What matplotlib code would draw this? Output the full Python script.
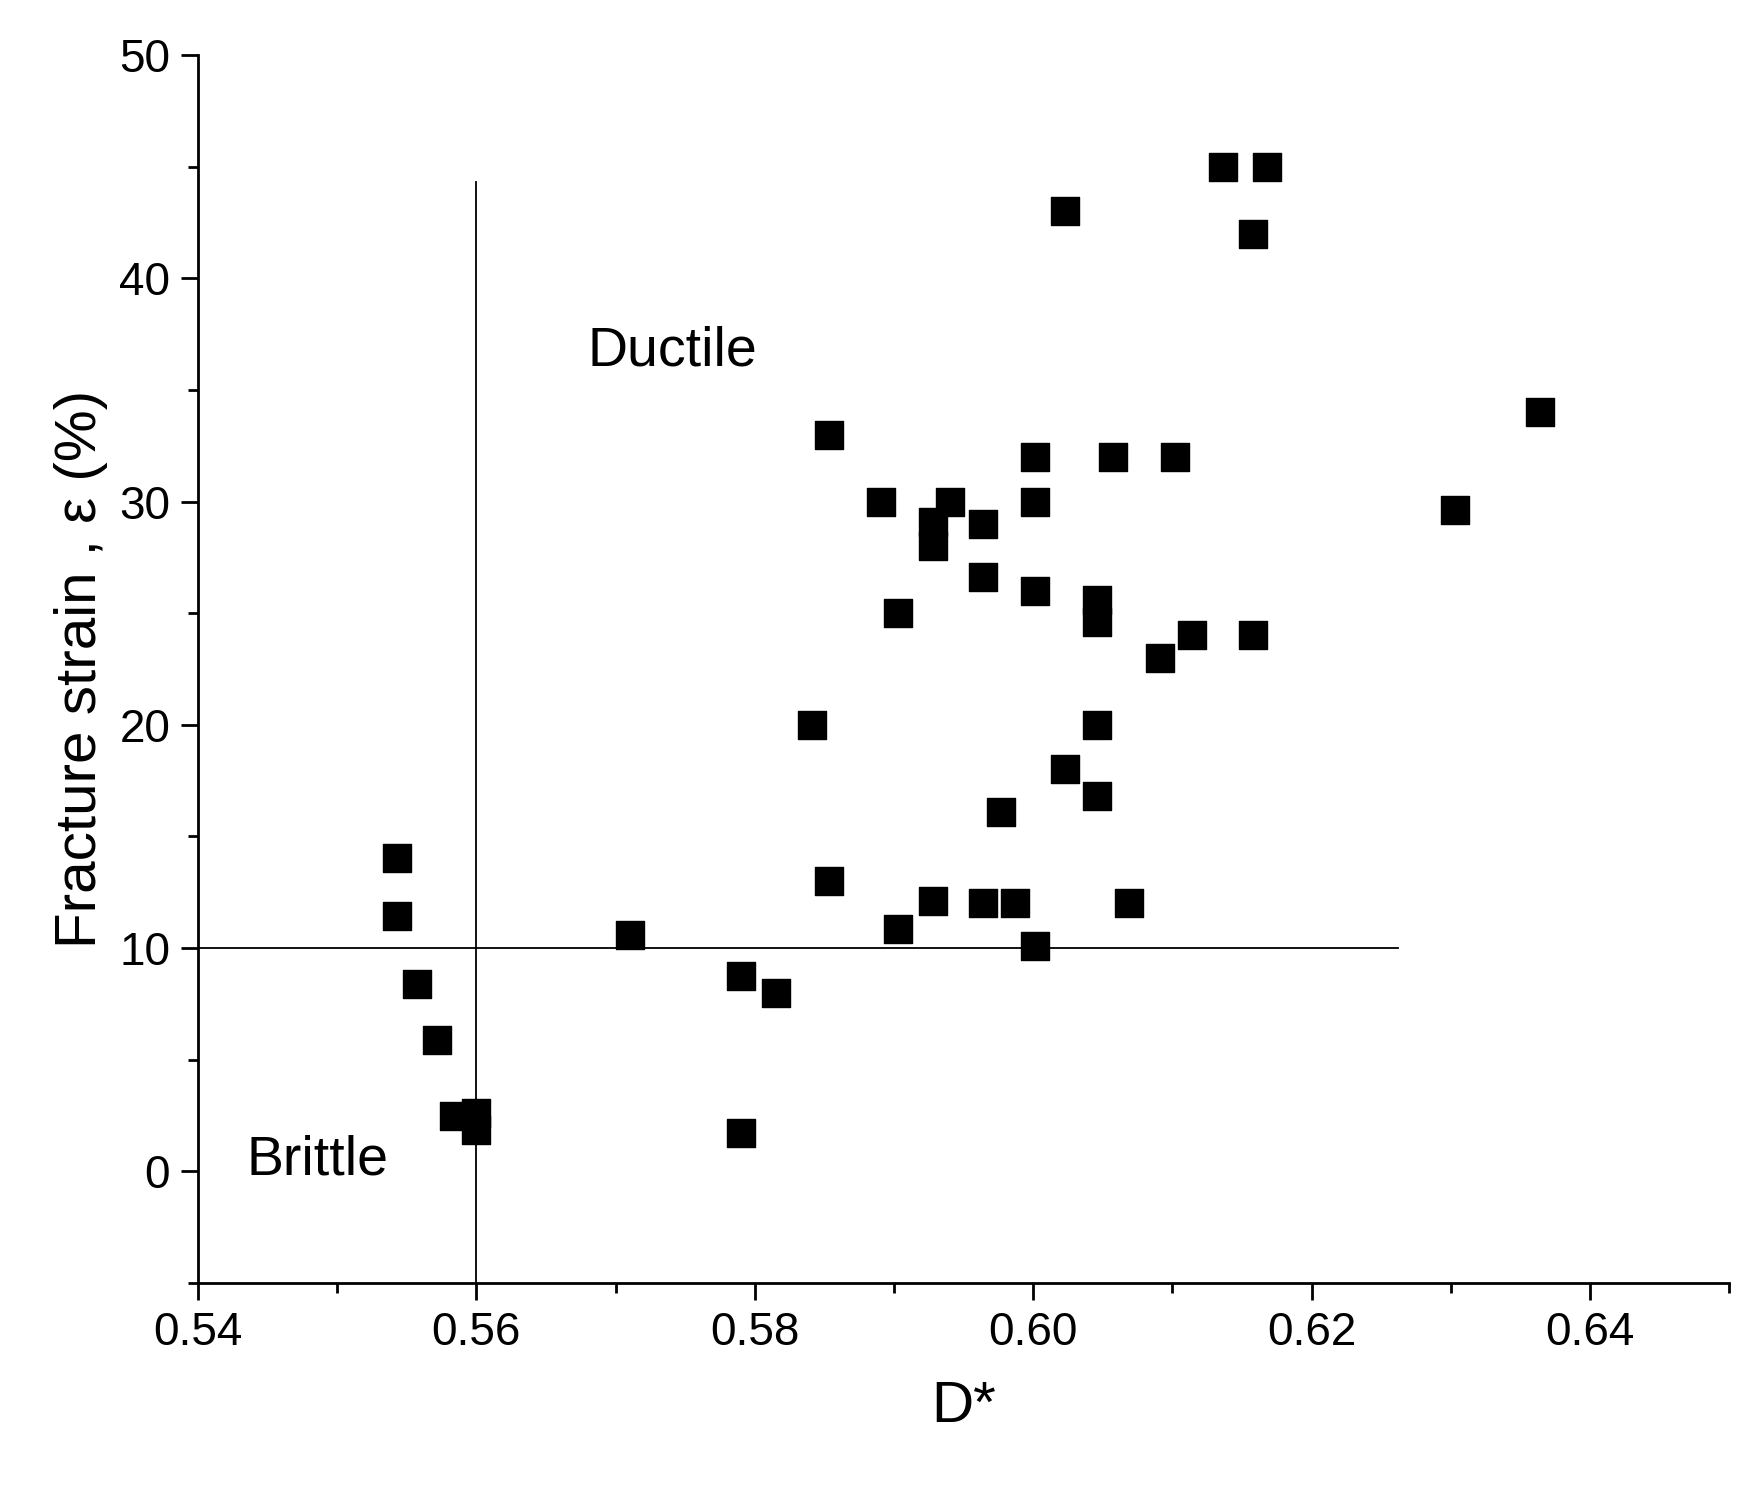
import matplotlib
matplotlib.use("Agg")
import matplotlib.pyplot as plt
from matplotlib.ticker import MultipleLocator

x_vals = [0.5543,0.5543,0.5557,0.5572,0.5584,0.5600,0.5600,0.5710,0.5790,0.5815,0.5790,
          0.5841,0.5853,0.5853,0.5891,0.5903,0.5903,0.5928,0.5928,0.5928,0.5940,0.5964,
          0.5964,0.5964,0.5977,0.5987,0.6001,0.6001,0.6001,0.6001,0.6023,0.6023,0.6046,
          0.6046,0.6046,0.6046,0.6057,0.6069,0.6091,0.6102,0.6114,0.6136,0.6158,0.6158,
          0.6168,0.6303,0.6364]
y_vals = [14.05,11.45,8.4,5.9,2.5,2.6,1.85,10.6,8.75,8.0,1.7,
          20,13,33,30,25,10.85,29.1,28,12.1,30,29,
          26.6,12,16.1,12,32,30,26,10.1,43,18,25.6,
          24.6,20,16.8,32,12,23,32,24,45,42,24,
          45,29.6,34]

plt.rcParams['font.family'] = ['Liberation Sans', 'DejaVu Sans']
fig = plt.figure(figsize=(17.52, 14.85), dpi=100)
ax = fig.add_axes([0.113, 0.136, 0.874, 0.827])
ax.scatter(x_vals, y_vals, marker='s', s=420, color='black', zorder=3)
ax.plot([0.56, 0.56], [-5, 44.3], color='black', lw=1.3)
ax.plot([0.54, 0.6262], [10, 10], color='black', lw=1.3)
ax.text(0.5680, 36.7, 'Ductile', fontsize=40, va='center', ha='left')
ax.text(0.5435, 0.5, 'Brittle', fontsize=40, va='center', ha='left')
ax.set_xlim(0.54, 0.65)
ax.set_ylim(-5, 50)
ax.xaxis.set_minor_locator(MultipleLocator(0.01))
ax.yaxis.set_minor_locator(MultipleLocator(5))
ax.set_xticks([0.54,0.56,0.58,0.60,0.62,0.64])
ax.set_xticklabels(['0.54','0.56','0.58','0.60','0.62','0.64'])
ax.set_yticks([0,10,20,30,40,50])
ax.tick_params(which='major', direction='out', length=12, width=2, labelsize=33, pad=8)
ax.tick_params(which='minor', direction='out', length=7, width=2)
for s in ['top', 'right']:
    ax.spines[s].set_visible(False)
for s in ['left', 'bottom']:
    ax.spines[s].set_linewidth(2)
ax.set_xlabel('D*', fontsize=42, labelpad=18)
ax.set_ylabel('Fracture strain , ε (%)', fontsize=42, labelpad=8)
fig.savefig('out.png', dpi=100)
